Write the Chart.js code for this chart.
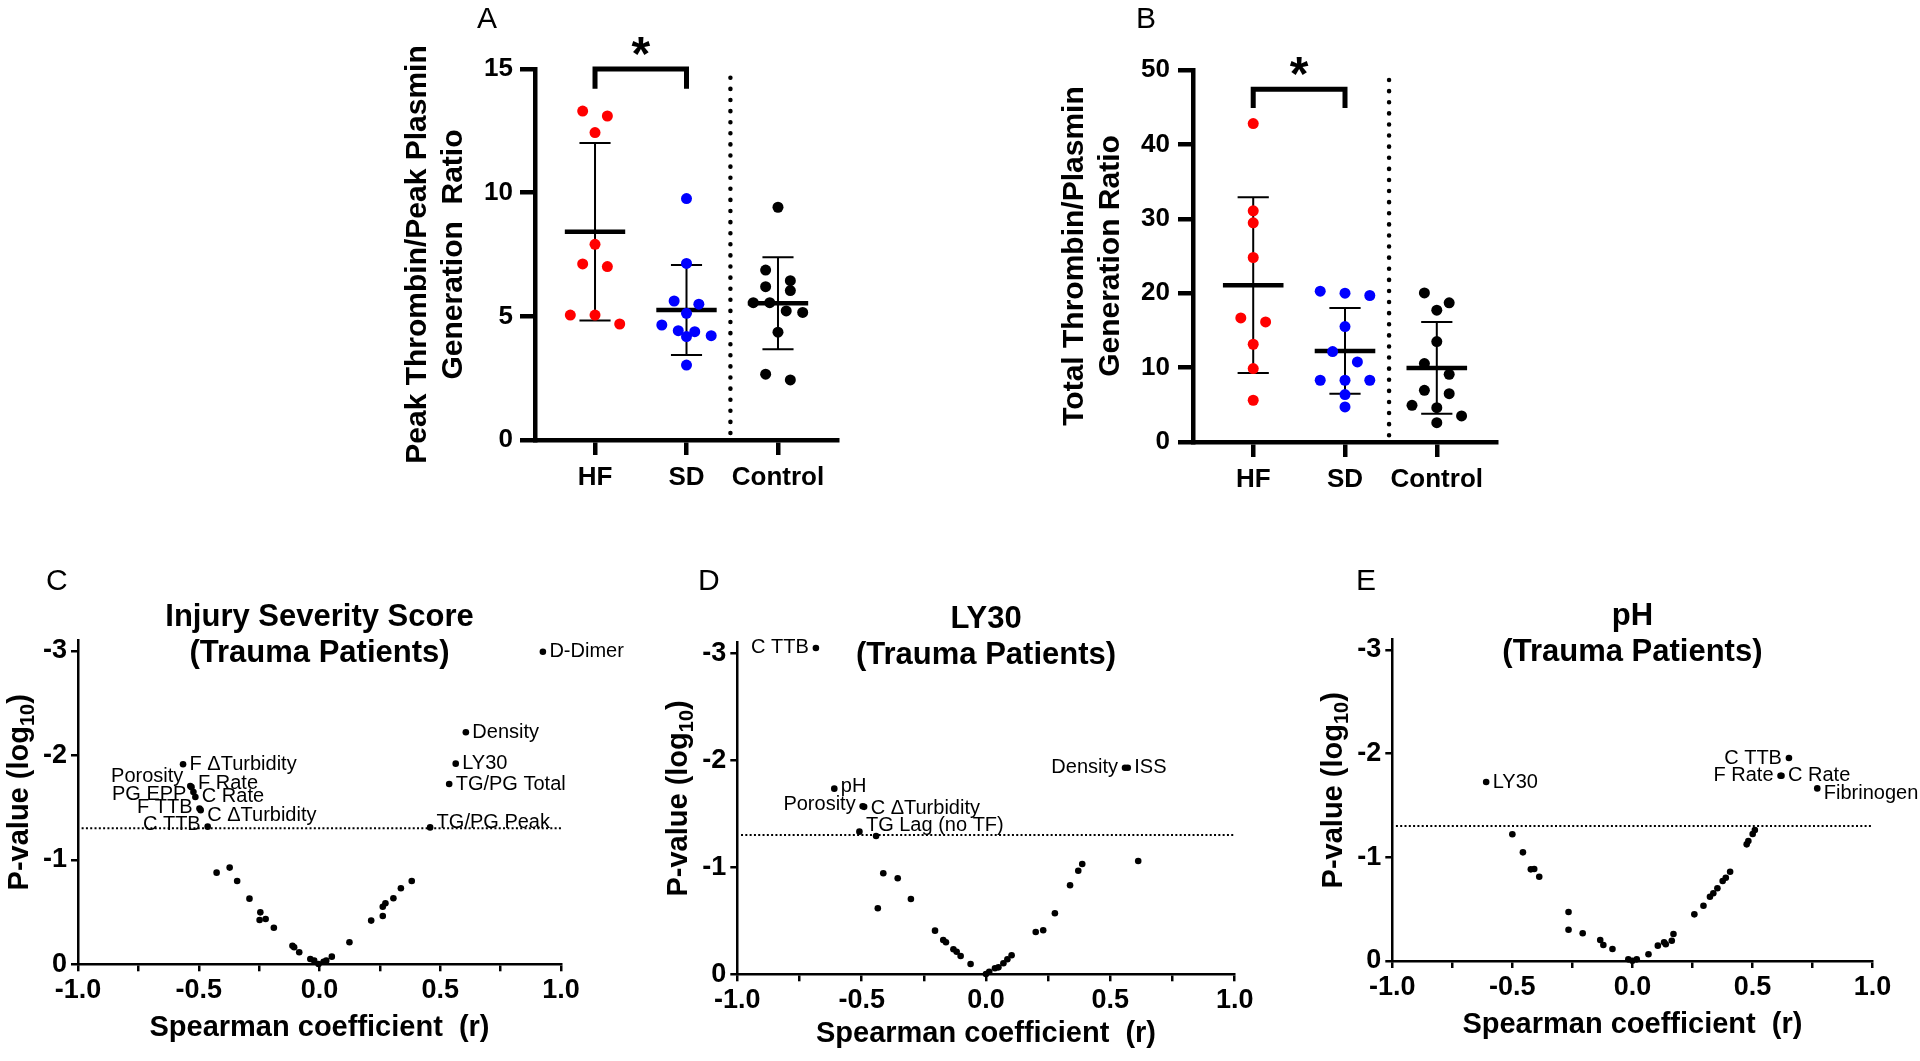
<!DOCTYPE html>
<html lang="en">
<head>
<meta charset="UTF-8">
<title>Thrombin/Plasmin generation ratios and Spearman volcano plots</title>
<script src="https://cdn.jsdelivr.net/npm/chart.js@4.4.0/dist/chart.umd.min.js"></script>
<style>
    html, body { margin: 0; padding: 0; background: #fff; }
    body { width: 1920px; height: 1061px; position: relative; overflow: hidden; }
    canvas { position: absolute; }
</style>
</head>
<body>
<canvas id="chartA" width="480" height="520" style="left:380px;top:0px"></canvas>
<canvas id="chartB" width="480" height="520" style="left:1030px;top:0px"></canvas>
<canvas id="chartC" width="680" height="504" style="left:0px;top:557px"></canvas>
<canvas id="chartD" width="640" height="504" style="left:630px;top:557px"></canvas>
<canvas id="chartE" width="630" height="504" style="left:1290px;top:557px"></canvas>

<script>
const FONT = '"Liberation Sans", Arial, Helvetica, sans-serif';
Chart.defaults.font.family = FONT;
Chart.defaults.color = '#000';

const groups = ['HF', 'SD', 'Control'];
const groupColors = ['#ff0000', '#0000ff', '#000000'];

// A - peak thrombin / peak plasmin generation ratio
const peakHF = [13.3, 13.1, 12.43, 7.91, 7.12, 7.01, 5.05, 5.05, 4.69];
const peakSD = [9.76, 7.14, 5.62, 5.49, 5.12, 4.65, 4.42, 4.38, 4.22, 4.18, 3.03];
const peakControl = [9.41, 6.87, 6.44, 6.20, 6.04, 5.55, 5.55, 5.22, 5.16, 4.36, 2.66, 2.43];
const peakMean = [8.42, 5.26, 5.53];
const peakSdev = [3.59, 1.82, 1.86];
const peakBracket = [14.2, 15];

// B - total thrombin / plasmin generation ratio
const totalHF = [42.8, 31.07, 29.46, 24.8, 16.68, 16.14, 13.14, 9.87, 5.61];
const totalSD = [20.27, 20.0, 19.69, 15.52, 12.16, 10.76, 8.3, 8.3, 8.3, 6.37, 4.71];
const totalControl = [20.04, 18.7, 17.72, 13.5, 10.54, 9.1, 6.95, 6.5, 4.93, 4.62, 3.5, 2.6];
const totalMean = [21.08, 12.24, 9.96];
const totalSdev = [11.8, 5.76, 6.17];
const totalBracket = [44.9, 47.4];

// C-E volcano plots: Spearman r vs log10(p)
const rTicks = [-1, -0.75, -0.5, -0.25, 0, 0.25, 0.5, 0.75, 1];
const pTicks = [-3, -2, -1, 0];
const SIG = Math.log10(0.05);

const issNames = ['D-Dimer', 'Density', 'LY30', 'TG/PG Total', 'TG/PG Peak', 'F \u0394Turbidity', 'Porosity', 'F Rate', 'PG EPP', 'C Rate', 'F TTB', 'C \u0394Turbidity', 'C TTB'];
const issR = [0.925, 0.606, 0.564, 0.537, 0.458, -0.565, -0.535, -0.530, -0.522, -0.514, -0.497, -0.492, -0.463,
    -0.426, -0.372, -0.341, -0.290, -0.245, -0.248, -0.223, -0.189, -0.112, -0.105, -0.084, -0.038, -0.022, -0.004,
    0.017, 0.028, 0.051, 0.124, 0.214, 0.262, 0.262, 0.273, 0.306, 0.337, 0.382];
const issP = [-2.99, -2.22, -1.92, -1.725, -1.31, -1.914, -1.705, -1.695, -1.649, -1.601, -1.49, -1.475, -1.317,
    -0.877, -0.925, -0.797, -0.628, -0.497, -0.424, -0.434, -0.350, -0.178, -0.163, -0.115, -0.051, -0.035, -0.003,
    -0.025, -0.035, -0.073, -0.211, -0.418, -0.462, -0.551, -0.584, -0.632, -0.727, -0.797];

const ly30Names = ['C TTB', 'pH', 'Porosity', 'C \u0394Turbidity', 'TG Lag (no TF)', 'Density', 'ISS'];
const ly30R = [-0.684, -0.610, -0.496, -0.490, -0.509, 0.559, 0.570,
    -0.442, -0.413, -0.355, -0.435, -0.302, -0.205, -0.172, -0.161, -0.131, -0.118, -0.102, -0.062,
    0.0, 0.013, 0.036, 0.050, 0.070, 0.086, 0.103, 0.200, 0.230, 0.277, 0.338, 0.371, 0.387, 0.612];
const ly30P = [-3.05, -1.735, -1.57, -1.565, -1.333, -1.931, -1.931,
    -1.293, -0.944, -0.897, -0.617, -0.704, -0.408, -0.321, -0.299, -0.234, -0.211, -0.171, -0.096,
    -0.003, -0.024, -0.056, -0.065, -0.103, -0.140, -0.178, -0.395, -0.411, -0.570, -0.832, -0.968, -1.031, -1.059];

const phNames = ['LY30', 'C TTB', 'F Rate', 'C Rate', 'Fibrinogen'];
const phR = [-0.609, 0.652, 0.617, 0.621, 0.770,
    -0.5, -0.456, -0.423, -0.409, -0.388, -0.266, -0.266, -0.207, -0.134, -0.121, -0.083, -0.017,
    0.0, 0.018, 0.067, 0.106, 0.132, 0.139, 0.164, 0.171, 0.258, 0.296, 0.323, 0.337, 0.354, 0.376,
    0.389, 0.407, 0.476, 0.483, 0.501, 0.510];
const phP = [-1.726, -1.958, -1.787, -1.787, -1.665,
    -1.222, -1.048, -0.884, -0.887, -0.813, -0.473, -0.302, -0.267, -0.203, -0.154, -0.116, -0.016,
    -0.003, -0.016, -0.065, -0.148, -0.180, -0.161, -0.196, -0.260, -0.450, -0.533, -0.620, -0.653, -0.701, -0.771,
    -0.803, -0.861, -1.125, -1.157, -1.225, -1.263];

// where each point label sits: side of the dot, vertical nudge in px
const issLabelPos = {
    'D-Dimer': ['R', 0], 'Density': ['R', 0], 'LY30': ['R', 0], 'TG/PG Total': ['R', 0], 'TG/PG Peak': ['R', -5],
    'F \u0394Turbidity': ['R', 0], 'Porosity': ['L', -10], 'F Rate': ['R', -4], 'PG EPP': ['L', 3],
    'C Rate': ['R', 0], 'F TTB': ['L', -1], 'C \u0394Turbidity': ['R', 5], 'C TTB': ['L', -2]
};
const ly30LabelPos = {
    'C TTB': ['L', 0], 'pH': ['R', -2], 'Porosity': ['L', -2], 'C \u0394Turbidity': ['R', 2],
    'TG Lag (no TF)': ['R', -6], 'Density': ['L', 0], 'ISS': ['R', 0]
};
const phLabelPos = {
    'LY30': ['R', 0], 'C TTB': ['L', 0], 'F Rate': ['L', 0], 'C Rate': ['R', 0], 'Fibrinogen': ['R', 5]
};

// spread the dots of one group sideways (rows of similar values, centred)
function swarm(vals, pxPerUnit) {
    const rowGap = 11, step = 0.27;
    const idx = vals.map((v, i) => i).sort((a, b) => vals[b] - vals[a]);
    const offs = vals.map(() => 0);
    let row = [];
    const flush = () => {
        const n = row.length;
        const s = n > 3 ? 2 * step / (n - 1) : step;
        row.forEach((k, j) => { offs[k] = (j - (n - 1) / 2) * s; });
        row = [];
    };
    idx.forEach(i => {
        if (row.length && (vals[row[0]] - vals[i]) * pxPerUnit >= rowGap) flush();
        row.push(i);
    });
    flush();
    return offs;
}

function lineSet(points, width, extra) {
    return Object.assign({
        data: points, showLine: true, pointRadius: 0, borderColor: '#000',
        borderWidth: width, spanGaps: false, clip: false
    }, extra || {});
}

function axisStyle(width, tickLen) {
    return {
        border: { display: true, color: '#000', width: width },
        grid: {
            display: true, drawOnChartArea: false, drawTicks: true, tickLength: tickLen,
            tickWidth: width, tickColor: '#000', lineWidth: width, color: '#000'
        }
    };
}

const groupDecor = {
    id: 'groupDecor',
    afterDraw(chart, args, o) {
        const { ctx, scales: { x, y } } = chart;
        ctx.save();
        ctx.fillStyle = '#000';
        ctx.textAlign = 'left';
        ctx.textBaseline = 'alphabetic';
        ctx.font = '30px ' + FONT;
        ctx.fillText(o.letter, o.letterX, o.letterY);
        ctx.font = 'bold 48px ' + FONT;
        ctx.textAlign = 'center';
        ctx.fillText('*', x.getPixelForValue(1.5), y.getPixelForValue(o.bracket[1]) + 1);
        ctx.restore();
    }
};

function groupPanel(id, cfg) {
    const datasets = [];
    cfg.values.forEach((vals, g) => {
        const offs = swarm(vals, cfg.pxPerUnit);
        datasets.push({
            data: vals.map((v, i) => ({ x: g + 1 + offs[i], y: v })),
            pointRadius: 5.5, pointBackgroundColor: groupColors[g], pointBorderWidth: 0, clip: false
        });
    });
    cfg.mean.forEach((m, g) => {
        const c = g + 1, hi = m + cfg.sdev[g], lo = m - cfg.sdev[g];
        datasets.push(lineSet([{ x: c - 0.33, y: m }, { x: c + 0.33, y: m }], 4.5));
        datasets.push(lineSet([
            { x: c - 0.17, y: hi }, { x: c + 0.17, y: hi }, { x: c, y: null },
            { x: c, y: hi }, { x: c, y: lo }, { x: c, y: null },
            { x: c - 0.17, y: lo }, { x: c + 0.17, y: lo }
        ], 2));
    });
    const b = cfg.bracket;
    datasets.push(lineSet([{ x: 1, y: b[0] }, { x: 1, y: b[1] }, { x: 2, y: b[1] }, { x: 2, y: b[0] }], 5,
        { borderJoinStyle: 'miter', borderCapStyle: 'butt' }));
    datasets.push(lineSet([{ x: 2.48, y: cfg.sep[0] }, { x: 2.48, y: cfg.sep[1] }], 4.5,
        { borderDash: [0.1, 11], borderCapStyle: 'round' }));

    new Chart(document.getElementById(id), {
        type: 'scatter',
        data: { datasets },
        options: {
            responsive: false, animation: false, devicePixelRatio: 1,
            layout: { padding: { left: 0, top: cfg.top, right: cfg.right, bottom: 0 } },
            plugins: {
                legend: { display: false }, tooltip: { enabled: false },
                groupDecor: { letter: cfg.letter, letterX: cfg.letterX, letterY: cfg.letterY, bracket: b }
            },
            scales: {
                x: Object.assign({
                    type: 'linear', min: 0.344, max: 3.645,
                    afterFit: s => { s.height = cfg.xh; },
                    afterBuildTicks: s => { s.ticks = groups.map((g, i) => ({ value: i + 1 })); },
                    ticks: {
                        callback: v => groups[Math.round(v) - 1],
                        font: { size: 26, weight: 'bold' }, padding: 7, autoSkip: false, maxRotation: 0
                    }
                }, axisStyle(4.5, 15)),
                y: Object.assign({
                    min: 0, max: cfg.max,
                    afterFit: s => { s.width = cfg.yw; },
                    ticks: { stepSize: cfg.step, font: { size: 26, weight: 'bold' }, padding: cfg.tickPad },
                    title: {
                        display: true, text: cfg.title, font: { size: 30, weight: 'bold' },
                        padding: { top: cfg.titlePad, bottom: 0 }
                    }
                }, axisStyle(4.5, 15))
            }
        },
        plugins: [groupDecor]
    });
}

groupPanel('chartA', {
    values: [peakHF, peakSD, peakControl], mean: peakMean, sdev: peakSdev, bracket: peakBracket,
    sep: [0.28, 14.8], pxPerUnit: 24.73, max: 15, step: 5,
    title: ['Peak Thrombin/Peak Plasmin', 'Generation  Ratio'],
    top: 69, right: 23, xh: 80, yw: 155, tickPad: 7, titlePad: 20,
    letter: 'A', letterX: 97, letterY: 28
});
groupPanel('chartB', {
    values: [totalHF, totalSD, totalControl], mean: totalMean, sdev: totalSdev, bracket: totalBracket,
    sep: [0.9, 49.2], pxPerUnit: 7.434, max: 50, step: 10,
    title: ['Total Thrombin/Plasmin', 'Generation Ratio'],
    top: 70, right: 14, xh: 78, yw: 163, tickPad: 8, titlePad: 27,
    letter: 'B', letterX: 106, letterY: 28
});

function drawPTitle(ctx, cx, cy) {
    const main = 'bold 29px ' + FONT, sub = 'bold 20px ' + FONT;
    ctx.save();
    ctx.translate(cx, cy);
    ctx.rotate(-Math.PI / 2);
    ctx.textAlign = 'left';
    ctx.textBaseline = 'middle';
    ctx.font = main;
    const w1 = ctx.measureText('P-value (log').width, w3 = ctx.measureText(')').width;
    ctx.font = sub;
    const w2 = ctx.measureText('10').width;
    let x = -(w1 + w2 + w3) / 2;
    ctx.font = main; ctx.fillText('P-value (log', x, 0); x += w1;
    ctx.font = sub; ctx.fillText('10', x, 8); x += w2;
    ctx.font = main; ctx.fillText(')', x, 0);
    ctx.restore();
}

const volcanoDecor = {
    id: 'volcanoDecor',
    afterDraw(chart, args, o) {
        const { ctx, chartArea: a, scales: { x, y } } = chart;
        const cx = (a.left + a.right) / 2;
        ctx.save();
        ctx.fillStyle = '#000';
        ctx.textAlign = 'left';
        ctx.textBaseline = 'alphabetic';
        ctx.font = '30px ' + FONT;
        ctx.fillText(o.letter, o.letterX, o.letterY);

        ctx.font = 'bold 31px ' + FONT;
        ctx.textAlign = 'center';
        ctx.textBaseline = 'middle';
        ctx.fillText(o.title, cx, a.top - 23);
        ctx.fillText('(Trauma Patients)', cx, a.top + 13);

        drawPTitle(ctx, a.left - 58, (a.top + a.bottom) / 2 - 10);

        ctx.font = '20px ' + FONT;
        o.names.forEach((name, i) => {
            const pos = o.labelPos[name];
            const px = x.getPixelForValue(o.r[i]), py = y.getPixelForValue(o.p[i]) + pos[1];
            if (pos[0] === 'L') {
                ctx.textAlign = 'right';
                ctx.fillText(name, px - 7, py);
            } else {
                ctx.textAlign = 'left';
                ctx.fillText(name, px + 6.5, py);
            }
        });
        ctx.restore();
    }
};

function volcano(id, cfg) {
    const pts = cfg.r.map((r, i) => ({ x: r, y: cfg.p[i] }));
    new Chart(document.getElementById(id), {
        type: 'scatter',
        data: {
            datasets: [
                { data: pts, pointRadius: 3.3, pointBackgroundColor: '#000', pointBorderWidth: 0, clip: false },
                lineSet([{ x: -0.985, y: SIG }, { x: 1, y: SIG }], 2, { borderDash: [2, 2.3] })
            ]
        },
        options: {
            responsive: false, animation: false, devicePixelRatio: 1,
            layout: { padding: { left: 0, top: cfg.top, right: cfg.right, bottom: 0 } },
            plugins: {
                legend: { display: false }, tooltip: { enabled: false },
                volcanoDecor: {
                    letter: cfg.letter, letterX: cfg.letterX, letterY: 33, title: cfg.title,
                    names: cfg.names, labelPos: cfg.labelPos, r: cfg.r, p: cfg.p
                }
            },
            scales: {
                x: Object.assign({
                    type: 'linear', min: -1, max: 1,
                    afterFit: s => { s.height = cfg.xh; },
                    afterBuildTicks: s => { s.ticks = rTicks.map(v => ({ value: v })); },
                    ticks: {
                        callback: v => (Math.abs(v * 2 - Math.round(v * 2)) < 1e-9 ? v.toFixed(1) : ''),
                        font: { size: 27, weight: 'bold' }, padding: 3, autoSkip: false, maxRotation: 0
                    },
                    title: {
                        display: true, text: 'Spearman coefficient  (r)', font: { size: 29, weight: 'bold' },
                        padding: { top: 0, bottom: cfg.xtPad }
                    }
                }, axisStyle(2.5, 7)),
                y: Object.assign({
                    type: 'linear', reverse: true, min: -3.1, max: 0,
                    afterFit: s => { s.width = cfg.yw; },
                    afterBuildTicks: s => { s.ticks = pTicks.map(v => ({ value: v })); },
                    ticks: { callback: v => String(v), font: { size: 27, weight: 'bold' }, padding: 4 }
                }, axisStyle(2.5, 7))
            }
        },
        plugins: [volcanoDecor]
    });
}

volcano('chartC', {
    r: issR, p: issP, names: issNames, labelPos: issLabelPos, title: 'Injury Severity Score',
    letter: 'C', letterX: 46, yw: 78, right: 119, top: 83.3, xh: 96.7, xtPad: 15.6
});
volcano('chartD', {
    r: ly30R, p: ly30P, names: ly30Names, labelPos: ly30LabelPos, title: 'LY30',
    letter: 'D', letterX: 68, yw: 107.3, right: 35.3, top: 85.6, xh: 86.7, xtPad: 9.6
});
volcano('chartE', {
    r: phR, p: phP, names: phNames, labelPos: phLabelPos, title: 'pH',
    letter: 'E', letterX: 66, yw: 102.3, right: 47.5, top: 82.6, xh: 100, xtPad: 18.6
});
</script>
</body>
</html>
